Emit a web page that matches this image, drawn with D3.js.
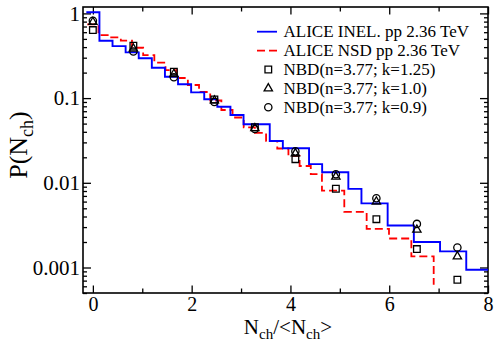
<!DOCTYPE html>
<html><head><meta charset="utf-8">
<script src="https://cdn.jsdelivr.net/npm/d3@7"></script>
<style>
html,body{margin:0;padding:0;background:#fff;}
svg{display:block;font-family:"Liberation Serif","Times New Roman",serif;}
</style></head>
<body><svg id="c" width="494" height="341"></svg>
<script>
// ---- data ----
const meanInel = 3.77;
const meanNsd = 4.42;
// ALICE INEL: lower bin edges in N_ch, probabilities
const inelEdges = [-0.5,0.5,1.5,2.5,3.5,4.5,5.5,6.5,7.5,8.5,9.5,10.5,11.5,13.5,14.5,16.5,17.5,19.5,20.5,22.5,24.5,26.5,28.5];
const inelP = [1.03,0.475,0.411,0.347,0.295,0.228,0.179,0.146,0.117,0.0968,0.0792,0.0632,0.0491,0.0312,0.0256,0.0166,0.0133,0.00847,0.00571,0.00313,0.0020,0.00155,0.00094];
const inelLast = 30.5;
// ALICE NSD
const nsdEdges = [-0.5,0.5,1.5,2.5,3.5,4.5,5.5,6.5,7.5,8.5,9.5,10.5,11.5,12.5,13.5,14.5,15.5,16.5,17.5,18.5,19.5,20.5,22.5,24.5,26.5,28.5];
const nsdP = [0.742,0.555,0.521,0.478,0.393,0.322,0.263,0.2145,0.1726,0.1427,0.118,0.0937,0.0724,0.0590,0.0450,0.0388,0.0312,0.0254,0.0208,0.0158,0.01264,0.00809,0.00454,0.00286,0.00220,0.001355];
const nsdLast = 30.5;
const nsdEndP = 0.000625;
// NBD points
const nbdX = [0,0.82,1.64,2.46,3.28,4.10,4.92,5.74,6.56,7.38];
const nbdK125 = [0.636,0.415,0.205,0.0962,0.0453,0.019,0.0085,0.00372,0.00165,0.000716];
const nbdK10 = [0.79,0.384,0.192,0.0937,0.044,0.0222,0.0118,0.0060,0.00279,0.00135];
const nbdK09 = [0.818,0.355,0.176,0.090,0.0431,0.0235,0.0126,0.00658,0.00327,0.00172];
const xTicks = [0,1,2,3,4,5,6,7,8];
const xLabels = [0,2,4,6,8];
const yMajor = [1,0.1,0.01,0.001];
const yLabels = ["1","0.1","0.01","0.001"];
const legendLabels = ["ALICE INEL. pp 2.36 TeV","ALICE NSD pp 2.36 TeV","NBD(n=3.77; k=1.25)","NBD(n=3.77; k=1.0)","NBD(n=3.77; k=0.9)"];

// ---- layout ----
const W=494,H=341, m={l:83,r:6,t:7,b:48};
const pw=W-m.l-m.r, ph=H-m.t-m.b;
const svg=d3.select("#c");
const g=svg.append("g").attr("transform",`translate(${m.l},${m.t})`);
const x=d3.scaleLinear().domain([-0.2,8]).range([0,pw]);
const y=d3.scaleLog().domain([0.0005,1.19]).range([ph,0]);

svg.append("defs").append("clipPath").attr("id","clip").append("rect").attr("width",pw).attr("height",ph);

// minor y ticks
const yMinor=[];
[0.0001,0.001,0.01,0.1].forEach(d=>{for(let k=2;k<=9;k++){const v=d*k; if(v>=0.0005&&v<=1.19) yMinor.push(v);}});

function styleAxis(sel){sel.select(".domain").remove();sel.selectAll("line").attr("stroke","#000").attr("stroke-width",1.3);
  sel.selectAll("text").attr("fill","#000").attr("font-family",'"Liberation Serif","Times New Roman",serif');}

// left
g.append("g").call(d3.axisLeft(y).tickValues(yMinor).tickSize(-4).tickFormat("")).call(styleAxis);
g.append("g").call(d3.axisLeft(y).tickValues(yMajor).tickSize(-8).tickPadding(3).tickFormat((d,i)=>yLabels[i]))
 .call(styleAxis).selectAll("text").attr("font-size",21);
// right
g.append("g").attr("transform",`translate(${pw},0)`).call(d3.axisRight(y).tickValues(yMinor).tickSize(-4).tickFormat("")).call(styleAxis);
g.append("g").attr("transform",`translate(${pw},0)`).call(d3.axisRight(y).tickValues(yMajor).tickSize(-8).tickFormat("")).call(styleAxis);
// bottom
const xMinorT = xTicks.filter(d=>!xLabels.includes(d));
g.append("g").attr("transform",`translate(0,${ph})`).call(d3.axisBottom(x).tickValues(xMinorT).tickSize(-4.5).tickFormat("")).call(styleAxis);
g.append("g").attr("transform",`translate(0,${ph})`).call(d3.axisBottom(x).tickValues(xLabels).tickSize(-7.5).tickPadding(4).tickFormat(d3.format("d")))
 .call(styleAxis).selectAll("text").attr("font-size",20);
// top
g.append("g").call(d3.axisTop(x).tickValues(xMinorT).tickSize(-4.5).tickFormat("")).call(styleAxis);
g.append("g").call(d3.axisTop(x).tickValues(xLabels).tickSize(-7.5).tickFormat("")).call(styleAxis);

// frame
g.append("rect").attr("width",pw).attr("height",ph).attr("fill","none").attr("stroke","#000").attr("stroke-width",1.6);

// step lines
const plot=g.append("g").attr("clip-path","url(#clip)");
const inelPts = inelEdges.map((e,i)=>[e/meanInel,inelP[i]]).concat([[inelLast/meanInel,inelP[inelP.length-1]]]);
const nsdPts = nsdEdges.map((e,i)=>[e/meanNsd,nsdP[i]]).concat([[nsdLast/meanNsd,nsdEndP]]);
const line=d3.line().x(d=>x(d[0])).y(d=>y(d[1])).curve(d3.curveStepAfter);
plot.append("path").attr("d",line(nsdPts)).attr("fill","none").attr("stroke","#ff0000").attr("stroke-width",1.8).attr("stroke-dasharray","8,4");
plot.append("path").attr("d",line(inelPts)).attr("fill","none").attr("stroke","#0000ff").attr("stroke-width",1.9);

// markers
const sq=d3.symbol().type(d3.symbolSquare).size(44);
const tri=d3.symbol().type(d3.symbolTriangle).size(30);
const circ=d3.symbol().type(d3.symbolCircle).size(42);
function drawMarkers(vals,sym){
  g.append("g").selectAll("path").data(vals).join("path")
   .attr("d",sym).attr("transform",(d,i)=>`translate(${x(nbdX[i])},${y(d)})`)
   .attr("fill","none").attr("stroke","#000").attr("stroke-width",1.3);
}
drawMarkers(nbdK125,sq);
drawMarkers(nbdK10,tri);
drawMarkers(nbdK09,circ);

// legend
const lg=svg.append("g");
const ly0=31.7, lstep=18.9, lx=283.5;
legendLabels.forEach((t,i)=>{
  lg.append("text").attr("x",lx).attr("y",ly0+i*lstep+5.5).attr("font-size",17).attr("fill","#000").text(t);
});
lg.append("line").attr("x1",257).attr("x2",277).attr("y1",ly0).attr("y2",ly0).attr("stroke","#0000ff").attr("stroke-width",1.8);
lg.append("line").attr("x1",257).attr("x2",277).attr("y1",ly0+lstep).attr("y2",ly0+lstep).attr("stroke","#ff0000").attr("stroke-width",1.8).attr("stroke-dasharray","8,4");
[sq,tri,circ].forEach((s,i)=>{
  lg.append("path").attr("d",s).attr("transform",`translate(268.3,${ly0+(i+2)*lstep})`).attr("fill","none").attr("stroke","#000").attr("stroke-width",1.3);
});

// axis titles
const xt=svg.append("text").attr("x",m.l+x(3.95)).attr("y",334).attr("text-anchor","middle").attr("font-size",21).attr("fill","#000");
xt.append("tspan").text("N");
xt.append("tspan").attr("font-size",15).attr("dy",5).text("ch");
xt.append("tspan").attr("dy",-5).text("/<N");
xt.append("tspan").attr("font-size",15).attr("dy",5).text("ch");
xt.append("tspan").attr("dy",-5).text(">");

const yt=svg.append("text").attr("transform","translate(27,145) rotate(-90)").attr("text-anchor","middle").attr("font-size",26).attr("fill","#000");
yt.append("tspan").text("P(N");
yt.append("tspan").attr("font-size",18).attr("dy",6).text("ch");
yt.append("tspan").attr("dy",-6).text(")");
</script></body></html>
